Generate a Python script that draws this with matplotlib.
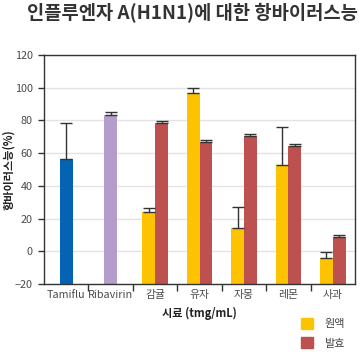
import matplotlib
matplotlib.use('Agg')
import matplotlib.pyplot as plt
import matplotlib.patches as mpatches
import numpy as np

plt.rcParams['font.family'] = ['Noto Sans CJK KR', 'DejaVu Sans']

categories = ['Tamiflu', 'Ribavirin', '감귤', '유자', '자몽', '레몬', '사과']
control_names = ['Tamiflu', 'Ribavirin']
control_vals = [56.4, 83.5]
control_err = [22.0, 1.5]
control_colors = ['#0563b4', '#b39dcb']

fruits = ['감귤', '유자', '자몽', '레몬', '사과']
raw_vals = [24.0, 96.8, 14.3, 52.8, -4.0]      # 원액
raw_err = [2.3, 2.8, 12.6, 23.0, 3.5]
ferm_vals = [78.4, 66.8, 70.5, 64.4, 8.8]      # 발효
ferm_err = [1.0, 1.2, 1.0, 1.0, 1.0]

yellow = '#fdc300'
red = '#bc514f'
base = -20
w = 0.29

fig = plt.figure(figsize=(3.59, 3.55), dpi=100)
ax = fig.add_axes([0.1226, 0.2, 0.8664, 0.645])

ekw = dict(ecolor='#333333', elinewidth=1, capsize=4, capthick=1)

for i, (v, e, c) in enumerate(zip(control_vals, control_err, control_colors)):
    ax.bar(i, v - base, bottom=base, width=w, color=c, zorder=2,
           yerr=[[0], [e]], error_kw=ekw)

x = np.arange(2, 2 + len(fruits))
ax.bar(x - w / 2, np.array(raw_vals) - base, bottom=base, width=w, color=yellow,
       zorder=2, yerr=[np.zeros(len(x)), raw_err], error_kw=ekw)
ax.bar(x + w / 2, np.array(ferm_vals) - base, bottom=base, width=w, color=red,
       zorder=2, yerr=[np.zeros(len(x)), ferm_err], error_kw=ekw)

ax.set_xlim(-0.5, len(categories) - 0.5)
ax.set_ylim(-20, 120)
ax.set_yticks(np.arange(-20, 121, 20))
ax.yaxis.grid(True, color='#e3e3e3', linewidth=1, zorder=0)
ax.set_axisbelow(True)

ax.set_xticks(np.arange(len(categories)))
ax.set_xticklabels(categories)
ax.set_xticks(np.arange(0.5, len(categories) - 0.5, 1), minor=True)
ax.tick_params(axis='x', which='major', length=0, pad=4, labelsize=7.8, labelcolor='#4a4a4a')
ax.tick_params(axis='x', which='minor', length=5, width=1, color='#333333')
ax.tick_params(axis='y', length=4, width=1, color='#333333', labelsize=7.8,
               labelcolor='#4a4a4a', pad=4)

for s in ax.spines.values():
    s.set_color('#333333')
    s.set_linewidth(1)

ax.set_xlabel('시료 (tmg/mL)', fontsize=8, fontweight='bold', color='#222222', labelpad=5)
ax.set_ylabel('항바이러스능(%)', fontsize=8, fontweight='bold', color='#222222', labelpad=0)
ax.yaxis.set_label_coords(-0.093, 0.5)

fig.text(0.535, 0.962, '인플루엔자 A(H1N1)에 대한 항바이러스능', ha='center', va='center',
         fontsize=13.5, fontweight='bold', color='#333333')

handles = [mpatches.Patch(color=yellow, label='원액'), mpatches.Patch(color=red, label='발효')]
leg = fig.legend(handles=handles, loc='lower left', bbox_to_anchor=(0.81, -0.01), frameon=False,
                 handlelength=1.1, handleheight=1.1, handletextpad=1.0, labelspacing=0.75,
                 fontsize=8)
for t in leg.get_texts():
    t.set_color('#444444')

fig.savefig('out.png', dpi=100)
